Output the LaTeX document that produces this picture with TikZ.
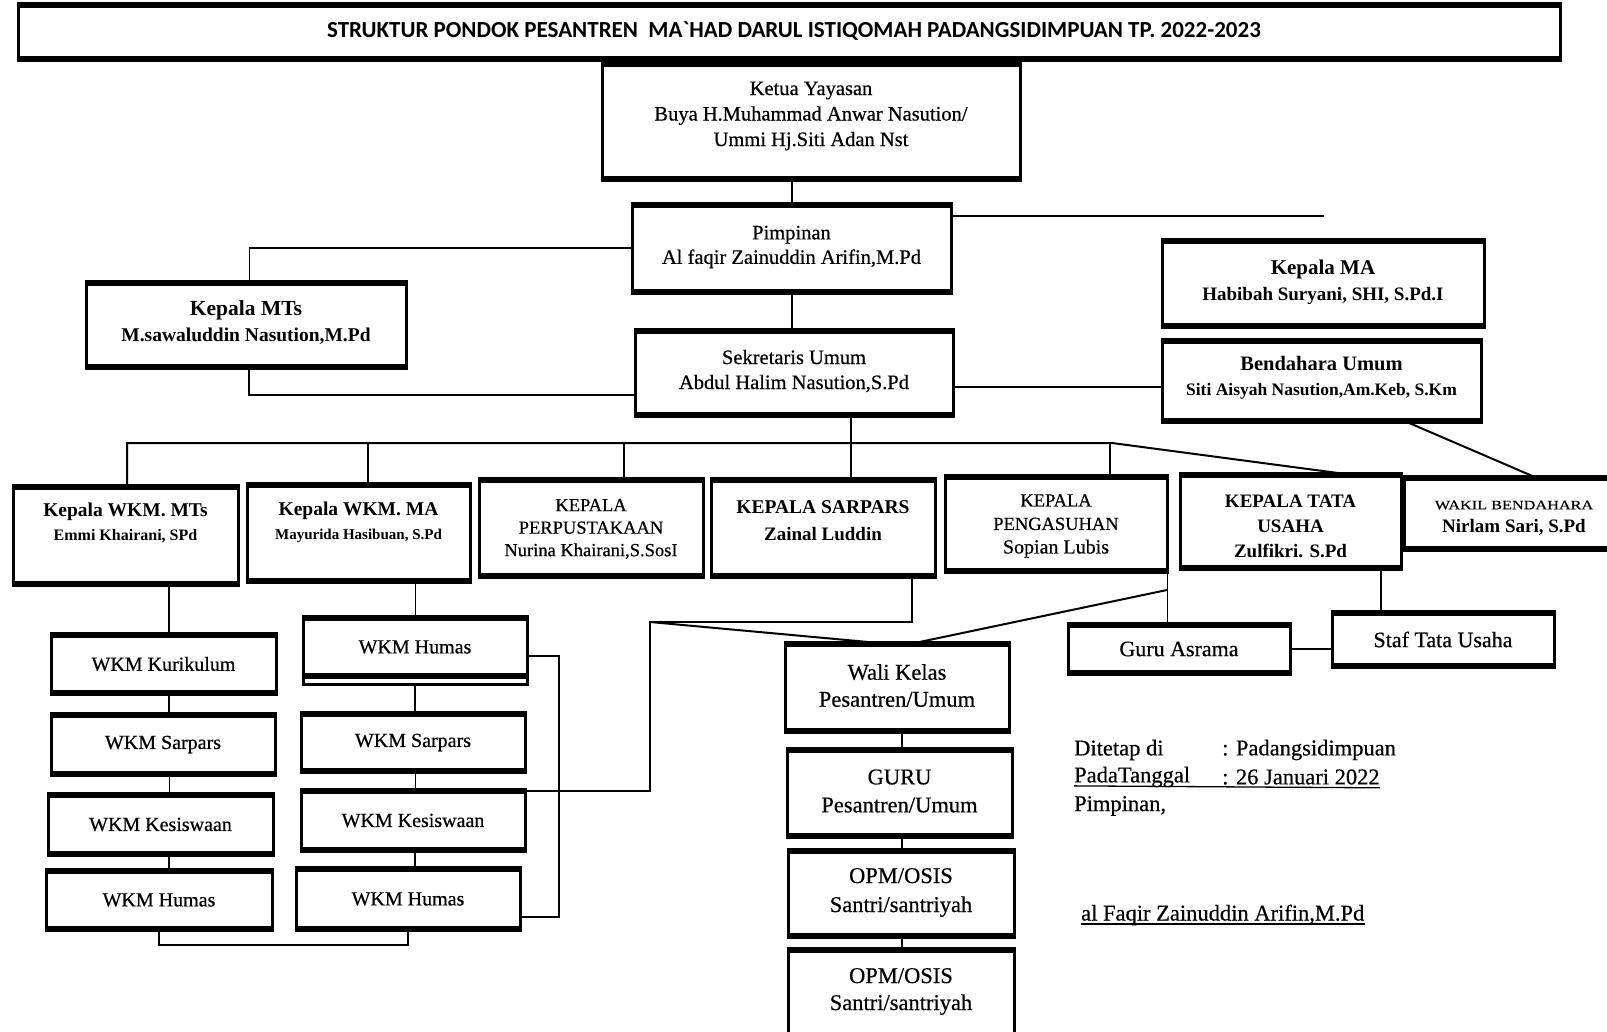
\documentclass[tikz,border=0pt]{standalone}
\usepackage{fontspec}
\setmainfont{Liberation Serif}
\newfontfamily\titlefont{Carlito}
\newfontfamily\semib[FakeBold=0.5]{Liberation Serif}
\newfontfamily\widefont[FakeStretch=1.25,FakeBold=0.5]{Liberation Serif}
\newcommand\fsz[2]{\fontsize{#1pt}{#2pt}\selectfont}
\begin{document}
\begin{tikzpicture}[x=1pt,y=-1pt,
  box/.style={draw, line width=3pt, outer sep=0pt, inner sep=0pt, align=center},
  txt/.style={inner sep=0pt, align=center},
  conn/.style={line width=2pt},
  thinc/.style={line width=1pt},
  sig/.style={inner sep=0pt, anchor=west, font=\semib\fsz{22.5}{27}},
  wkm/.style={box, font=\semib\fsz{20}{24}},
]
\useasboundingbox[fill=white] (0,0) rectangle (1607,1032);

% title
\node[box, minimum width=1542pt, minimum height=54pt] (title) at (789,32) {};
\node[txt, font=\titlefont\bfseries\fsz{23}{27}] (titleT) at (794,31)
  {STRUKTUR PONDOK PESANTREN\ \ MA`HAD DARUL ISTIQOMAH PADANGSIDIMPUAN TP. 2022-2023};

% top
\node[box, minimum width=418pt, minimum height=115pt] (ketua) at (811,121.5) {};
\node[txt, font=\semib\fsz{20.5}{25.5}] (ketuaT) at (811,116)
  {Ketua Yayasan\\Buya H.Muhammad Anwar Nasution/\\Ummi Hj.Siti Adan Nst};
\node[box, minimum width=319pt, minimum height=87pt] (pimp) at (791.5,248.5) {};
\node[txt, font=\semib\fsz{20.5}{24.5}] (pimpT) at (791.5,247)
  {Pimpinan\\Al faqir Zainuddin Arifin,M.Pd};
\node[box, minimum width=318pt, minimum height=84pt] (sek) at (794,373) {};
\node[txt, font=\semib\fsz{20.5}{25}] (sekT) at (794,371)
  {Sekretaris Umum\\Abdul Halim Nasution,S.Pd};
\node[box, minimum width=320pt, minimum height=84pt] (mts) at (246,325) {};
\node[txt, font=\bfseries\fsz{21.5}{26}] (mtsT) at (246,323)
  {Kepala MTs\\{\fsz{19.5}{26}M.sawaluddin Nasution,M.Pd}};
\node[box, minimum width=322pt, minimum height=85pt] (ma) at (1323,283.5) {};
\node[txt, font=\bfseries\fsz{21}{26}] (maT) at (1323,282)
  {Kepala MA\\{\fsz{19}{26}Habibah Suryani, SHI, S.Pd.I}};
\node[box, minimum width=319pt, minimum height=80pt] (bend) at (1321.5,381) {};
\node[txt, font=\bfseries\fsz{20.5}{25}] (bendT) at (1321.5,378)
  {Bendahara Umum\\{\fsz{17.5}{25}Siti Aisyah Nasution,Am.Keb, S.Km}};

% row
\node[box, minimum width=225pt, minimum height=97pt] (wkmmts) at (125.5,535.5) {};
\node[txt, font=\bfseries\fsz{19.5}{24}] (wkmmtsT) at (125.5,523)
  {Kepala WKM. MTs\\{\fsz{16}{24}Emmi Khairani, SPd}};
\node[box, minimum width=223pt, minimum height=96pt] (wkmma) at (358.5,533) {};
\node[txt, font=\bfseries\fsz{19.5}{24}] (wkmmaT) at (358.5,522)
  {Kepala WKM. MA\\{\fsz{15}{24}Mayurida Hasibuan, S.Pd}};
\node[box, minimum width=224pt, minimum height=96pt] (perp) at (591,528) {};
\node[txt, font=\semib\fsz{18.5}{22.5}] (perpT) at (591,529)
  {KEPALA\\PERPUSTAKAAN\\Nurina Khairani,S.SosI};
\node[box, minimum width=224pt, minimum height=96pt] (sarp) at (823,528) {};
\node[txt, font=\bfseries\fsz{19.5}{27}] (sarpT) at (823,521)
  {KEPALA SARPARS\\{\fsz{19}{27}Zainal Luddin}};
\node[box, minimum width=222pt, minimum height=94pt] (peng) at (1056,524) {};
\node[txt, font=\semib\fsz{18.5}{23.5}] (pengT) at (1056,526)
  {KEPALA\\PENGASUHAN\\{\fsz{20}{23.5}Sopian Lubis}};
\node[box, minimum width=221pt, minimum height=93pt] (tu) at (1290.5,521.5) {};
\node[txt, font=\bfseries\fsz{19}{25}] (tuT) at (1290.5,526)
  {KEPALA TATA\\USAHA\\Zulfikri. S.Pd};
\node[box, minimum width=212pt, minimum height=71pt] (wakil) at (1510,513.5) {};
\node[txt, font=\widefont\fsz{13}{23}] (wakilT) at (1514,518)
  {WAKIL BENDAHARA\\{\rmfamily\bfseries\fsz{19}{23}Nirlam Sari, S.Pd}};

% left column
\node[wkm, minimum width=225pt, minimum height=58pt] (kur) at (163.5,664) {WKM Kurikulum};
\node[wkm, minimum width=224pt, minimum height=59pt] (sarL) at (163,744.5) {WKM Sarpars};
\node[wkm, minimum width=225pt, minimum height=59pt] (kesL) at (160.5,824.5) {WKM Kesiswaan};
\node[wkm, minimum width=226pt, minimum height=58pt] (humL) at (159,900) {WKM Humas};

% right column
\node[wkm, minimum width=224pt, minimum height=58pt] (humT) at (415,647) {WKM Humas};
\node[wkm, minimum width=224pt, minimum height=57pt] (sarR) at (413,742.5) {WKM Sarpars};
\node[wkm, minimum width=224pt, minimum height=59pt] (kesR) at (413,820.5) {WKM Kesiswaan};
\node[wkm, minimum width=224pt, minimum height=60pt] (humB) at (408,899) {WKM Humas};

% middle column
\node[box, minimum width=224pt, minimum height=87pt] (wali) at (897,687.5) {};
\node[txt, font=\semib\fsz{22.5}{27}] (waliT) at (897,685.5) {Wali Kelas\\Pesantren/Umum};
\node[box, minimum width=225pt, minimum height=86pt] (guru) at (899.5,793) {};
\node[txt, font=\semib\fsz{22.5}{28}] (guruT) at (899.5,791) {GURU\\Pesantren/Umum};
\node[box, minimum width=226pt, minimum height=85pt] (opm1) at (901,893.5) {};
\node[txt, font=\semib\fsz{22.5}{29}] (opm1T) at (901,892.5) {OPM/OSIS\\Santri/santriyah};
\node[box, minimum width=226pt, minimum height=90pt] (opm2) at (901,995) {};
\node[txt, font=\semib\fsz{22.5}{27}] (opm2T) at (901,991.5) {OPM/OSIS\\Santri/santriyah};

% right lower
\node[box, minimum width=222pt, minimum height=48pt, font=\semib\fsz{22}{26}] (gasr) at (1179,649) {Guru Asrama};
\node[box, minimum width=222pt, minimum height=53pt, font=\semib\fsz{22}{26}] (staf) at (1443,639.5) {Staf Tata Usaha};

% signature
\node[sig] (s1) at (1074,750) {Ditetap di};
\node[sig] (s2) at (1222,750) {: Padangsidimpuan};
\node[sig] (s3) at (1074,777) {PadaTanggal};
\node[sig] (s4) at (1222,777) {: 26 Januari 2022};
\node[sig] (s5) at (1074,806) {Pimpinan,};
\node[sig] (s6) at (1081,915) {al Faqir Zainuddin Arifin,M.Pd};
\draw[line width=1.3pt] ([yshift=-3.5pt]s3.base west) -- ([yshift=-3.5pt]s4.base east);
\draw[line width=1.3pt] ([yshift=-3.5pt]s6.base west) -- ([yshift=-3.5pt]s6.base east);

% coordinates
\coordinate (mtsTop) at (249,246);
\coordinate (pimpR) at (1324,216);
\coordinate (mtsJ) at (249,395);
\coordinate (sbJ) at (1100,387);
\coordinate (busA) at (127,443);
\coordinate (busB) at (1112,443);
\coordinate (busS) at (851,443);
\coordinate (dMA) at (368,443);
\coordinate (dPer) at (624,443);
\coordinate (dPen) at (1110,443);
\coordinate (colL) at (169,700);
\coordinate (colR) at (415,700);
\coordinate (colM) at (902,800);
\coordinate (bkT) at (559,656);
\coordinate (bkB) at (559,917);
\coordinate (jn) at (650,622);
\coordinate (sarD) at (912,622);
\coordinate (tuS) at (1381,590);
\coordinate (penC) at ([yshift=-19pt]peng.south east);

% connectors
\draw[conn] (ketua.south -| pimp.north) -- (pimp.north);
\draw[conn] (pimp.south) -- (pimp.south |- sek.north);
\draw[conn] (pimp.west) -- (pimp.west -| mtsTop);
\draw[thinc] (pimp.west -| mtsTop) -- (mtsTop |- mts.north);
\draw[conn] (pimp.east |- pimpR) -- (pimpR);
\draw[conn] (mtsJ |- mts.south) -- (mtsJ) -- (mtsJ -| sek.west);
\draw[conn] (sek.east |- sbJ) -- (bend.west |- sbJ);
\draw[conn] (sek.south -| busS) -- (busS);
\draw[conn] (busA |- wkmmts.north) -- (busA) -- (busB) -- ([xshift=62.5pt]tu.north);
\foreach \c/\n in {dMA/wkmma, dPer/perp, busS/sarp, dPen/peng}
  {\draw[conn] (\c) -- (\c |- \n.north);}
\draw[conn] ([xshift=83pt]bend.south) -- ([xshift=27pt]wakil.north);

\draw[conn] (wkmmts.south -| colL) -- (kur.north -| colL);
\draw[conn] (kur.south -| colL) -- (sarL.north -| colL);
\draw[thinc] (sarL.south -| colL) -- (kesL.north -| colL);
\draw[conn] (kesL.south -| colL) -- (humL.north -| colL);

\draw[line width=3pt] (humT.south west) rectangle ([yshift=-8pt]humT.south east);
\draw[thinc] (wkmma.south -| colR) -- (humT.north -| colR);
\draw[conn] ([yshift=-8pt]humT.south -| colR) -- (sarR.north -| colR);
\draw[thinc] (sarR.south -| colR) -- (kesR.north -| colR);
\draw[conn] (kesR.south -| colR) -- (humB.north -| colR);

\draw[conn] (humL.south) -- ++(0,16) -| (humB.south);
\draw[conn] (humT.east |- bkT) -- (bkT) -- (bkB) -- (bkB -| humB.east);
\draw[conn] (kesR.north east) -| (jn) -- (sarD) -- (sarD |- sarp.south);
\draw[conn] (jn) -- ([xshift=-7pt]wali.north);
\draw[thinc] (peng.south east) -- (peng.south east |- gasr.north);
\draw[conn] (penC) -- ([xshift=13pt]wali.north);
\draw[conn] (gasr.east) -- (gasr.east -| staf.west);
\draw[conn] (tu.south -| tuS) -- (staf.north -| tuS);

\draw[conn] (wali.south -| colM) -- (guru.north -| colM);
\draw[conn] (guru.south -| colM) -- (opm1.north -| colM);
\draw[conn] (opm1.south -| colM) -- (opm2.north -| colM);

% heavy top and bottom edges
\foreach \n in {title,ketua,pimp,sek,mts,ma,bend,wkmmts,wkmma,perp,sarp,peng,tu,wakil,kur,sarL,kesL,humL,humT,sarR,kesR,humB,wali,guru,opm1,opm2,gasr,staf}{
  \draw[line width=5.5pt] ([xshift=-1.5pt]\n.north west) -- ([xshift=1.5pt]\n.north east);
  \draw[line width=5.5pt] ([xshift=-1.5pt]\n.south west) -- ([xshift=1.5pt]\n.south east);
}
\end{tikzpicture}
\end{document}
